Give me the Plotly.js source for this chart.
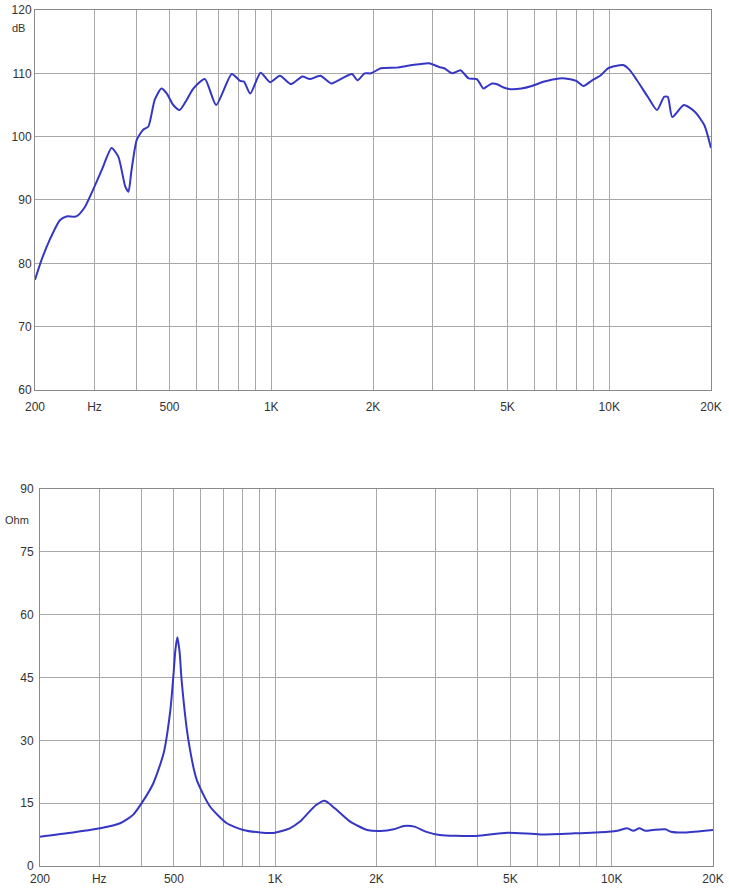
<!DOCTYPE html>
<html>
<head>
<meta charset="utf-8">
<script src="https://cdn.plot.ly/plotly-3.0.1.min.js"></script>
<style>html,body{margin:0;padding:0;background:#fff;}#chart{width:729px;height:888px;}</style>
</head>
<body>
<div id="chart"></div>
<script>
// Frequency response (SPL)
const splFreq = [200,209,221,237,248,265,281,297,315,337,353,370,378,386,400,418,433,452,473,491,513,536,562,588,636,687,764,809,830,867,930,992,1061,1145,1236,1300,1397,1505,1620,1733,1800,1890,1973,2110,2349,2605,2931,3137,3250,3430,3628,3837,4057,4240,4341,4500,4700,4850,5098,5498,5900,6428,7114,7400,7991,8391,8900,9443,9915,10990,11500,12080,13000,13840,14540,14900,15360,16630,17940,19120,20000];
const splDb = [77.4,80.5,83.7,86.8,87.4,87.4,88.9,91.6,94.7,98.2,96.8,92.1,91.3,94.7,99.5,101.1,101.6,105.8,107.6,106.8,105.0,104.2,105.8,107.6,109.1,105.0,109.9,108.8,108.7,106.8,110.1,108.6,109.6,108.3,109.5,109.1,109.6,108.4,109.2,109.9,108.9,110.0,110.0,110.8,110.9,111.3,111.6,111.0,110.8,110.0,110.5,109.2,109.1,107.6,107.9,108.4,108.2,107.8,107.5,107.6,108.0,108.7,109.2,109.2,108.8,108.0,108.9,109.7,110.8,111.3,110.5,108.9,106.3,104.2,106.3,106.3,103.1,105.0,103.9,101.8,98.2];

// Impedance
const impFreq = [200,240,302,346,378,401,434,466,488,498,505,512,520,527,552,585,640,718,804,901,988,1105,1185,1238,1320,1404,1503,1671,1876,2058,2250,2412,2594,2800,3083,3869,4903,6135,7730,9750,10500,11120,11600,12070,12600,13300,14440,15000,16500,20000];
const impOhm = [7.0,7.8,9.0,10.2,12.2,15.0,19.7,26.9,37.2,45.2,51.5,54.6,51.0,44.4,30.1,20.5,14.2,10.2,8.6,8.0,7.9,9.0,10.6,12.2,14.5,15.6,13.8,10.6,8.6,8.35,8.75,9.55,9.4,8.2,7.4,7.15,7.95,7.55,7.8,8.2,8.5,9.0,8.4,9.0,8.4,8.6,8.75,8.2,8.0,8.6];

const gridVals = [200,300,400,500,600,700,800,900,1000,2000,3000,4000,5000,6000,7000,8000,9000,10000,20000];
const gridText = ['200','Hz','','500','','','','','1K','2K','','','5K','','','','','10K','20K'];

const lineColor = '#3636c4';
const tickFont = {family: 'Liberation Sans, Arial, sans-serif', size: 12, color: '#333'};

const xBase = {
  type: 'log', range: [Math.log10(200), Math.log10(20000)],
  tickmode: 'array', tickvals: gridVals, ticktext: gridText,
  showgrid: true, gridcolor: '#a8a8a8', gridwidth: 1,
  showline: true, linecolor: '#8a8a8a', linewidth: 1, mirror: true,
  ticks: '', tickfont: tickFont, zeroline: false, fixedrange: true
};
const yBase = {
  showgrid: true, gridcolor: '#a8a8a8', gridwidth: 1,
  showline: true, linecolor: '#8a8a8a', linewidth: 1, mirror: true,
  ticks: '', tickfont: tickFont, zeroline: false, fixedrange: true
};

const traces = [
  {x: splFreq, y: splDb, xaxis: 'x', yaxis: 'y', mode: 'lines',
   line: {color: lineColor, width: 2, shape: 'spline', smoothing: 0.6}, hoverinfo: 'skip'},
  {x: impFreq, y: impOhm, xaxis: 'x2', yaxis: 'y2', mode: 'lines',
   line: {color: lineColor, width: 2, shape: 'spline', smoothing: 0.6}, hoverinfo: 'skip'}
];

const layout = {
  width: 729, height: 888,
  margin: {l: 35, r: 16, t: 10, b: 22},
  paper_bgcolor: '#fff', plot_bgcolor: '#fff',
  showlegend: false,
  xaxis: Object.assign({}, xBase, {domain: [0, 0.99705], anchor: 'y', ticklabelstandoff: 6}),
  yaxis: Object.assign({}, yBase, {domain: [0.5561, 1], range: [60, 120], tickmode: 'array',
    tickvals: [60,70,80,90,100,110,120], anchor: 'x'}),
  xaxis2: Object.assign({}, xBase, {domain: [0.00737, 1], anchor: 'y2', ticklabelstandoff: 2}),
  yaxis2: Object.assign({}, yBase, {domain: [0, 0.4404], range: [0, 90], tickmode: 'array',
    tickvals: [0,15,30,45,60,75,90], anchor: 'x2', ticklabelstandoff: 3}),
  annotations: [
    {text: 'dB', xref: 'paper', yref: 'paper', x: -0.024, y: 0.979, showarrow: false,
     xanchor: 'center', yanchor: 'middle', font: {family: 'Liberation Sans, Arial, sans-serif', size: 11, color: '#333'}},
    {text: 'Ohm', xref: 'paper', yref: 'paper', x: -0.026, y: 0.4042, showarrow: false,
     xanchor: 'center', yanchor: 'middle', font: {family: 'Liberation Sans, Arial, sans-serif', size: 11, color: '#333'}}
  ]
};

Plotly.newPlot('chart', traces, layout, {staticPlot: true, displayModeBar: false});
</script>
</body>
</html>
